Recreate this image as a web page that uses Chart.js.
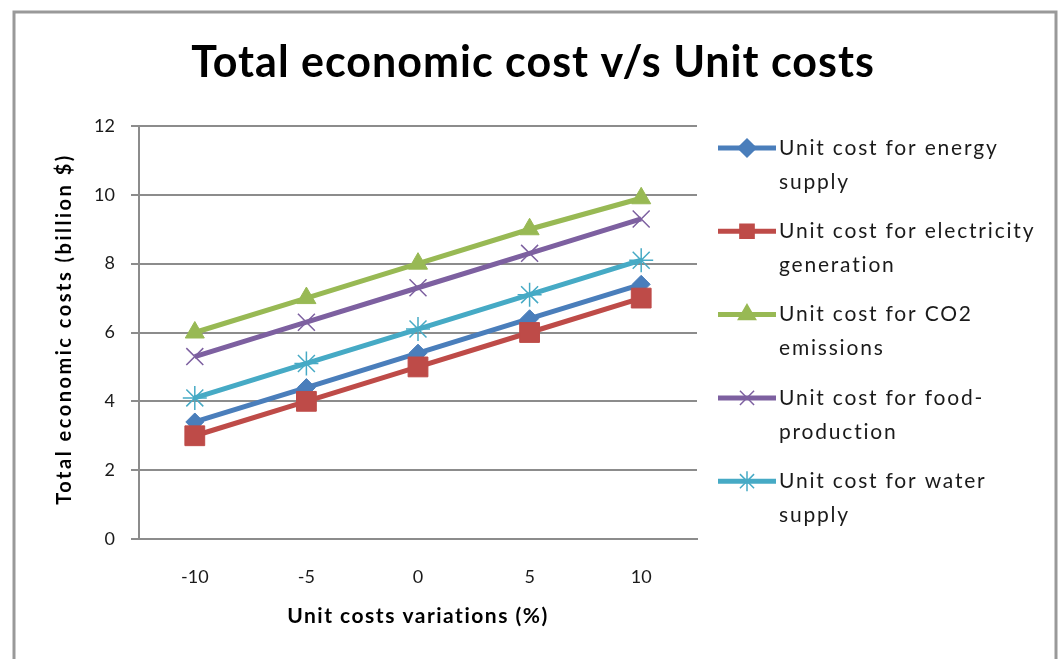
<!DOCTYPE html>
<html>
<head>
<meta charset="utf-8">
<script src="https://cdn.jsdelivr.net/npm/chart.js@4/dist/chart.umd.min.js"></script>
<style>
  html, body { margin: 0; padding: 0; background: #fff; }
  #wrap { width: 1062px; height: 659px; position: relative; }
</style>
</head>
<body>
<div id="wrap"><canvas id="costChart"></canvas></div>
<script>
// 数据
const variations = ['-10', '-5', '0', '5', '10'];
const energySupply = [3.4, 4.4, 5.4, 6.4, 7.4];
const electricityGen = [3.0, 4.0, 5.0, 6.0, 7.0];
const co2Emissions = [6.0, 7.0, 8.0, 9.0, 9.9];
const foodProduction = [5.3, 6.3, 7.3, 8.3, 9.3];
const waterSupply = [4.1, 5.1, 6.1, 7.1, 8.1];
const yTicks = [0, 2, 4, 6, 8, 10, 12];

const chartTitle = 'Total economic cost v/s Unit costs';
const xTitle = 'Unit costs variations (%)';
const yTitle = 'Total economic costs (billion $)';
const seriesNames = [
  ['Unit cost for energy', 'supply'],
  ['Unit cost for electricity', 'generation'],
  ['Unit cost for CO2', 'emissions'],
  ['Unit cost for food-', 'production'],
  ['Unit cost for water', 'supply']
];
const seriesData = [energySupply, electricityGen, co2Emissions, foodProduction, waterSupply];
const colors = ['#4a7ebb', '#be4b48', '#98b954', '#7d60a0', '#46aac5'];
const pointStyles = ['rectRot', 'rect', 'triangle', 'crossRot', 'star'];
const pointRadii = [9, 14, 11, 12, 12];

const gridColor = '#8c8c8c';

// 外框
const framePlugin = {
  id: 'frame',
  beforeDraw(chart) {
    const ctx = chart.ctx;
    ctx.save();
    ctx.fillStyle = '#fff';
    ctx.fillRect(0, 0, chart.width, chart.height);
    ctx.strokeStyle = '#999';
    ctx.lineWidth = 3;
    ctx.strokeRect(14, 12, 1042, 700);
    ctx.restore();
  }
};

// 标题和坐标轴标题（带字距）
const titlesPlugin = {
  id: 'titles',
  afterDraw(chart) {
    const ctx = chart.ctx;
    const area = chart.chartArea;
    ctx.save();
    ctx.fillStyle = '#000';
    ctx.textAlign = 'center';
    ctx.textBaseline = 'alphabetic';

    ctx.font = 'bold 43px Lato';
    ctx.letterSpacing = '1px';
    ctx.fillText(chartTitle, 533, 77);

    ctx.font = 'bold 21px Lato';
    ctx.letterSpacing = '1.5px';
    ctx.textBaseline = 'middle';
    ctx.fillText(xTitle, (area.left + area.right) / 2, 616);

    ctx.font = 'bold 20px Lato';
    ctx.letterSpacing = '2.5px';
    ctx.translate(65, 329);
    ctx.rotate(-Math.PI / 2);
    ctx.fillText(yTitle, 0, 0);
    ctx.restore();
  }
};

// 自定义图例（两行文字）
const legendPlugin = {
  id: 'sideLegend',
  afterDraw(chart) {
    const ctx = chart.ctx;
    ctx.save();
    chart.data.datasets.forEach((ds, i) => {
      const y = 148 + i * 83.3;
      ctx.strokeStyle = ds.borderColor;
      ctx.lineWidth = 5;
      ctx.beginPath();
      ctx.moveTo(718, y);
      ctx.lineTo(776, y);
      ctx.stroke();
      ctx.fillStyle = ds.borderColor;
      ctx.lineWidth = 1.5;
      Chart.helpers.drawPoint(ctx, {
        pointStyle: ds.pointStyle,
        radius: Math.min(ds.pointRadius, 10),
        borderWidth: 1.5
      }, 747, y);
      ctx.fillStyle = '#1a1a1a';
      ctx.font = '21px Lato';
      ctx.letterSpacing = '1.8px';
      ctx.textBaseline = 'middle';
      ctx.textAlign = 'left';
      seriesNames[i].forEach((line, k) => ctx.fillText(line, 779, y + k * 34));
    });
    ctx.restore();
  }
};

const datasets = seriesData.map((data, i) => ({
  label: seriesNames[i].join(' '),
  data,
  borderColor: colors[i],
  backgroundColor: colors[i],
  borderWidth: 5,
  pointStyle: pointStyles[i],
  pointRadius: pointRadii[i],
  pointBorderWidth: (i >= 3) ? 1.5 : 1,
  pointBackgroundColor: colors[i],
  pointBorderColor: colors[i],
  tension: 0,
  order: 4 - i
}));

new Chart(document.getElementById('costChart'), {
  type: 'line',
  data: { labels: variations, datasets },
  options: {
    responsive: true,
    maintainAspectRatio: false,
    animation: false,
    layout: { padding: { left: 0, right: 365, top: 126, bottom: 0 } },
    plugins: {
      legend: { display: false },
      tooltip: { enabled: false },
      title: { display: false }
    },
    scales: {
      x: {
        offset: true,
        grid: { display: false },
        border: { display: true, color: gridColor, width: 2 },
        ticks: { color: '#1a1a1a', font: { family: 'Lato', size: 18 }, padding: 19 },
        afterFit(scale) { scale.height = 120; }
      },
      y: {
        min: 0,
        max: 12,
        afterBuildTicks(scale) { scale.ticks = yTicks.map(v => ({ value: v })); },
        grid: { color: gridColor, lineWidth: 2, tickLength: 8 },
        border: { display: true, color: gridColor, width: 2 },
        ticks: { color: '#1a1a1a', font: { family: 'Lato', size: 18 }, padding: 16 },
        afterFit(scale) { scale.width = 139; }
      }
    }
  },
  plugins: [framePlugin, titlesPlugin, legendPlugin]
});
</script>
</body>
</html>
